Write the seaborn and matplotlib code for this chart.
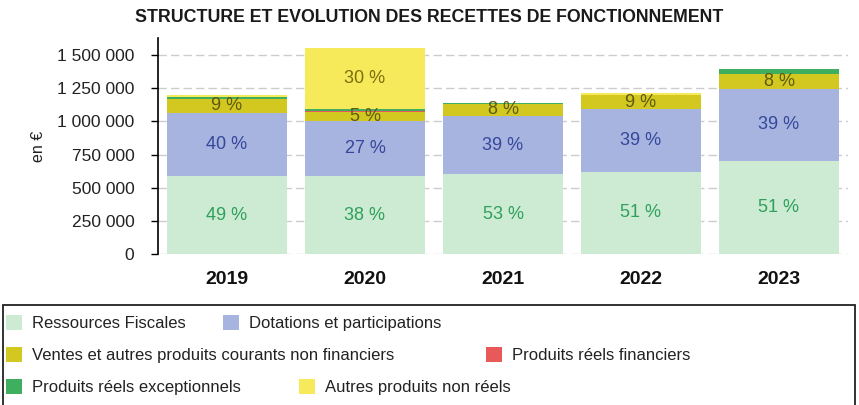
import matplotlib
matplotlib.use("Agg")
import matplotlib.pyplot as plt
import seaborn as sns
import numpy as np
import pandas as pd
from matplotlib.patches import Rectangle, Patch
from matplotlib.ticker import FuncFormatter

# ---- data (euros) ----
years = ["2019", "2020", "2021", "2022", "2023"]
fiscal = [585000, 585000, 600000, 620000, 705000]
dotations = [480000, 415000, 443000, 474000, 540000]
ventes = [108000, 75000, 88000, 105000, 110000]
financiers = [0, 7000, 0, 0, 0]
exceptionnels = [10000, 10000, 6000, 0, 40000]
autres = [17000, 462000, 0, 16000, 0]

series_names = ["Ressources Fiscales", "Dotations et participations",
                "Ventes et autres produits courants non financiers",
                "Produits réels financiers", "Produits réels exceptionnels",
                "Autres produits non réels"]
series_vals = [fiscal, dotations, ventes, financiers, exceptionnels, autres]
colors = ["#cdebd2", "#a8b4e0", "#d2c820", "#e85a5a", "#3fae5e", "#f6ea5a"]
label_colors = ["#2ea05c", "#34479a", "#5e5a10", "#7a1010", "#1e5a2e", "#7a6e10"]

sns.set_theme(style="white")
plt.rcParams["font.family"] = ["Liberation Sans", "DejaVu Sans"]

fig = plt.figure(figsize=(8.59, 4.05), dpi=100)
ax = fig.add_axes([158 / 859, 1 - 254 / 405, (848 - 158) / 859, (254 - 38) / 405])

totals = np.sum(np.array(series_vals, dtype=float), axis=0)
bottom = np.zeros(len(years))
for name, vals, col, lcol in zip(series_names, series_vals, colors, label_colors):
    df = pd.DataFrame({"year": years, "value": vals})
    sns.barplot(data=df, x="year", y="value", color=col, bottom=bottom,
                width=0.87, errorbar=None, ax=ax, saturation=1, linewidth=0)
    cont = ax.containers[-1]
    labels = []
    for v, t in zip(vals, totals):
        p = v / t * 100
        labels.append(f"{int(p + 0.5)} %" if p >= 4.5 else "")
    ax.bar_label(cont, labels=labels, label_type="center", color=lcol,
                 fontsize=13, family=["Liberation Sans", "DejaVu Sans"])
    bottom = bottom + np.array(vals, dtype=float)

ax.set_ylim(0, 1630000)
ax.set_xlim(-0.5, 4.5)
ax.set_yticks([0, 250000, 500000, 750000, 1000000, 1250000, 1500000])
ax.yaxis.set_major_formatter(FuncFormatter(lambda v, p: f"{int(v):,}".replace(",", " ")))
ax.set_axisbelow(True)
ax.yaxis.grid(True, color="#cccccc", linestyle=(0, (6, 3)), linewidth=1)
for s in ["top", "right", "bottom"]:
    ax.spines[s].set_visible(False)
ax.spines["left"].set_color("black")
ax.spines["left"].set_linewidth(1.2)
ax.tick_params(axis="y", left=True, length=5, width=1, color="black",
               labelsize=12.5, labelcolor="#222222", pad=12)
ax.tick_params(axis="x", bottom=False, labelsize=14, labelcolor="#111111", pad=6)
for t in ax.get_xticklabels():
    t.set_fontweight("bold")
ax.set_xlabel("")
ax.set_ylabel("en €", fontsize=11.5, color="#222222", labelpad=8)

fig.text(0.5, 1 - 18 / 405, "STRUCTURE ET EVOLUTION DES RECETTES DE FONCTIONNEMENT",
         ha="center", va="center", fontsize=12.8, fontweight="bold", color="#1a1a1a")

# ---- legend ----
fig.patches.append(Rectangle((3 / 859, -0.05), 852 / 859, 0.05 + (405 - 305) / 405,
                             transform=fig.transFigure, fill=False,
                             edgecolor="#222222", linewidth=1.3))
legend_pos = [(6, 323), (223, 323), (6, 355), (486, 355), (6, 387), (299, 387)]
for name, col, (px, py) in zip(series_names, colors, legend_pos):
    h = Patch(facecolor=col, edgecolor="none")
    fig.legend(handles=[h], labels=[name], loc="center left",
               bbox_to_anchor=(px / 859, 1 - py / 405), frameon=False,
               fontsize=12, handlelength=0.95, handleheight=1.0,
               handletextpad=0.6, borderpad=0, borderaxespad=0,
               labelcolor="#222222")

fig.savefig("out.png", dpi=100, facecolor="white")
